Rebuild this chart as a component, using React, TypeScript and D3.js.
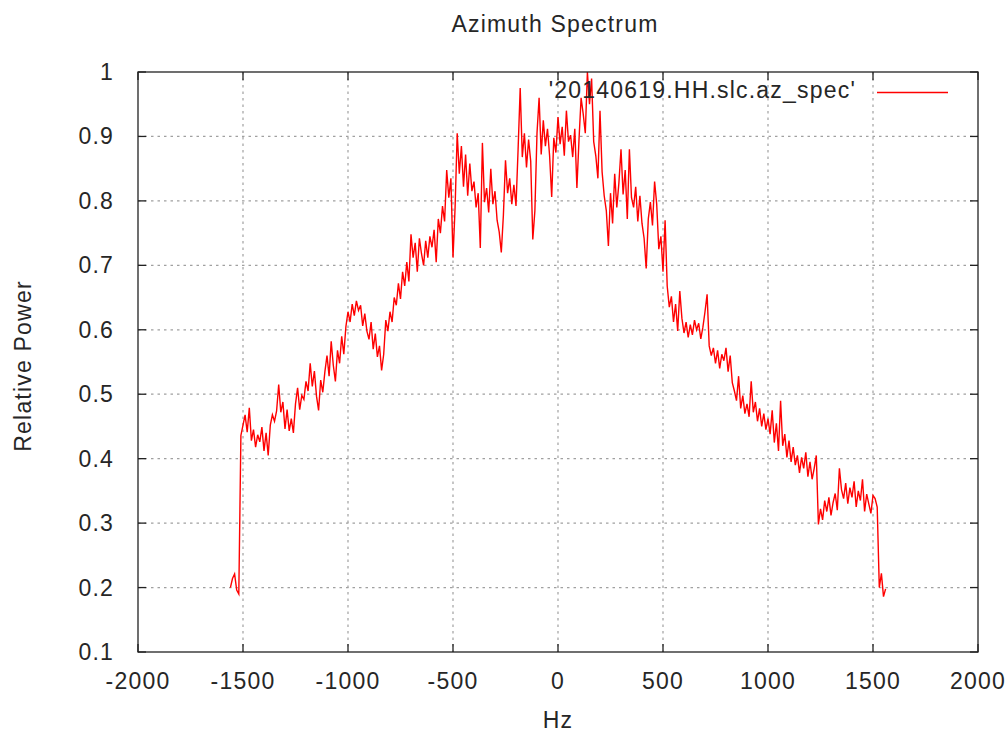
import React from 'react';
import * as d3 from 'd3';

// Azimuth spectrum: one value per 10 Hz bin
const binStartHz = -1560;
const binStepHz = 10;
const relativePower = [
  // -1560 .. -1510
  0.200, 0.214, 0.221, 0.196, 0.190, 0.436,
  // -1500 ..
  0.452, 0.468, 0.441, 0.479, 0.428, 0.445, 0.418, 0.437, 0.426, 0.449,
  0.412, 0.440, 0.405, 0.452, 0.468, 0.458, 0.474, 0.515, 0.472, 0.488,
  0.446, 0.476, 0.443, 0.462, 0.440, 0.485, 0.510, 0.476, 0.498, 0.492,
  0.520, 0.505, 0.548, 0.512, 0.536, 0.497, 0.475, 0.522, 0.503, 0.535,
  0.560, 0.528, 0.582, 0.545, 0.520, 0.568, 0.548, 0.590, 0.562, 0.605,
  // -1000 ..
  0.628, 0.612, 0.640, 0.622, 0.645, 0.630, 0.638, 0.606, 0.625, 0.598,
  0.585, 0.612, 0.570, 0.594, 0.558, 0.575, 0.537, 0.562, 0.615, 0.598,
  0.628, 0.612, 0.650, 0.638, 0.672, 0.648, 0.690, 0.668, 0.705, 0.675,
  0.748, 0.712, 0.735, 0.690, 0.742, 0.718, 0.700, 0.738, 0.712, 0.745,
  0.728, 0.755, 0.705, 0.772, 0.750, 0.792, 0.768, 0.848, 0.805, 0.835,
  // -500 ..
  0.712, 0.790, 0.905, 0.842, 0.885, 0.822, 0.872, 0.808, 0.858, 0.815,
  0.830, 0.790, 0.812, 0.727, 0.890, 0.798, 0.820, 0.782, 0.850, 0.795,
  0.815, 0.770, 0.752, 0.720, 0.778, 0.863, 0.812, 0.835, 0.795, 0.825,
  0.792, 0.880, 0.975, 0.868, 0.905, 0.852, 0.895, 0.862, 0.740, 0.785,
  0.905, 0.960, 0.872, 0.925, 0.885, 0.912, 0.870, 0.806, 0.898, 0.875,
  // 0 ..
  0.930, 0.888, 0.915, 0.870, 0.940, 0.892, 0.902, 0.868, 0.912, 0.820,
  0.895, 0.960, 0.935, 0.905, 1.000, 0.950, 0.990, 0.892, 0.870, 0.835,
  0.940, 0.845, 0.808, 0.785, 0.730, 0.812, 0.765, 0.842, 0.790, 0.828,
  0.880, 0.810, 0.848, 0.772, 0.880, 0.805, 0.790, 0.822, 0.768, 0.808,
  0.765, 0.742, 0.695, 0.772, 0.798, 0.762, 0.830, 0.795, 0.725, 0.745,
  // 500 ..
  0.690, 0.770, 0.668, 0.635, 0.652, 0.612, 0.640, 0.598, 0.660, 0.618,
  0.595, 0.612, 0.588, 0.608, 0.592, 0.615, 0.600, 0.610, 0.586, 0.604,
  0.628, 0.655, 0.575, 0.560, 0.572, 0.548, 0.568, 0.540, 0.562, 0.552,
  0.572, 0.535, 0.560, 0.518, 0.505, 0.490, 0.528, 0.478, 0.498, 0.470,
  0.485, 0.465, 0.520, 0.472, 0.488, 0.458, 0.478, 0.450, 0.470, 0.445,
  // 1000 ..
  0.462, 0.438, 0.475, 0.425, 0.455, 0.412, 0.490, 0.420, 0.438, 0.402,
  0.428, 0.395, 0.418, 0.390, 0.405, 0.378, 0.402, 0.385, 0.410, 0.372,
  0.395, 0.368, 0.385, 0.405, 0.298, 0.322, 0.305, 0.335, 0.318, 0.340,
  0.312, 0.332, 0.346, 0.320, 0.385, 0.352, 0.338, 0.362, 0.330, 0.355,
  0.340, 0.365, 0.325, 0.350, 0.335, 0.368, 0.318, 0.345, 0.330, 0.315,
  // 1500 .. 1560
  0.343, 0.338, 0.325, 0.200, 0.222, 0.186, 0.198,
];

const xTicks = [-2000, -1500, -1000, -500, 0, 500, 1000, 1500, 2000];
const yTicks = [0.1, 0.2, 0.3, 0.4, 0.5, 0.6, 0.7, 0.8, 0.9, 1];

const chartTitle = 'Azimuth Spectrum';
const xLabel = 'Hz';
const yLabel = 'Relative Power';
const seriesName = "'20140619.HH.slc.az_spec'";

const W = 1008;
const H = 734;
const m = { left: 138, right: 978, top: 72, bottom: 652 };
const font = '"Liberation Sans", Arial, sans-serif';
const fs = 23;
const ls = 1.2;
const ink = '#262626';

const App: React.FC = () => {
  const x = d3.scaleLinear().domain([-2000, 2000]).range([m.left, m.right]);
  const y = d3.scaleLinear().domain([0.1, 1]).range([m.bottom, m.top]);

  const points = relativePower.map((v, i) => [binStartHz + i * binStepHz, v] as [number, number]);
  const line = d3
    .line<[number, number]>()
    .x((d) => x(d[0]))
    .y((d) => y(d[1]));

  const frame = '#222';
  const grid = '#a0a0a0';

  return (
    <svg
      width={W}
      height={H}
      style={{ position: 'absolute', left: 0, top: 0, background: '#fff' }}
      fontFamily={font}
    >
      <rect x={0} y={0} width={W} height={H} fill="#fff" />

      {/* grid */}
      {xTicks.slice(1, -1).map((t) => (
        <line key={'gx' + t} x1={x(t)} x2={x(t)} y1={m.top} y2={m.bottom}
          stroke={grid} strokeWidth={1.2} strokeDasharray="2.5,4" />
      ))}
      {yTicks.slice(1, -1).map((t) => (
        <line key={'gy' + t} x1={m.left} x2={m.right} y1={y(t)} y2={y(t)}
          stroke={grid} strokeWidth={1.2} strokeDasharray="2.5,4" />
      ))}

      {/* ticks, mirrored on all sides */}
      {xTicks.map((t) => (
        <g key={'tx' + t} stroke={frame} strokeWidth={1.3}>
          <line x1={x(t)} x2={x(t)} y1={m.bottom} y2={m.bottom - 8} />
          <line x1={x(t)} x2={x(t)} y1={m.top} y2={m.top + 8} />
        </g>
      ))}
      {yTicks.map((t) => (
        <g key={'ty' + t} stroke={frame} strokeWidth={1.3}>
          <line x1={m.left} x2={m.left + 8} y1={y(t)} y2={y(t)} />
          <line x1={m.right} x2={m.right - 8} y1={y(t)} y2={y(t)} />
        </g>
      ))}

      {/* data */}
      <path d={line(points) || ''} fill="none" stroke="#ff0000" strokeWidth={1.4} />

      <rect x={m.left} y={m.top} width={m.right - m.left} height={m.bottom - m.top}
        fill="none" stroke={frame} strokeWidth={1.3} />

      {/* tick labels */}
      {xTicks.map((t) => (
        <text key={'lx' + t} x={x(t)} y={m.bottom + 37} textAnchor="middle"
          fontSize={fs} letterSpacing={ls} fill={ink}>{String(t)}</text>
      ))}
      {yTicks.map((t) => (
        <text key={'ly' + t} x={m.left - 24} y={y(t) + 8} textAnchor="end"
          fontSize={fs} letterSpacing={ls} fill={ink}>{String(t)}</text>
      ))}

      {/* legend */}
      <text x={856} y={98} textAnchor="end" fontSize={fs} letterSpacing={ls} fill={ink}>{seriesName}</text>
      <line x1={877} x2={948} y1={92.5} y2={92.5} stroke="#ff0000" strokeWidth={1.4} />

      <text x={555} y={32} textAnchor="middle" fontSize={fs} letterSpacing={ls} fill={ink}>{chartTitle}</text>
      <text x={558} y={728} textAnchor="middle" fontSize={fs} letterSpacing={ls} fill={ink}>{xLabel}</text>
      <text transform={`translate(31,366) rotate(-90)`} textAnchor="middle" fontSize={fs}
        letterSpacing={ls} fill={ink}>{yLabel}</text>
    </svg>
  );
};

export default App;
